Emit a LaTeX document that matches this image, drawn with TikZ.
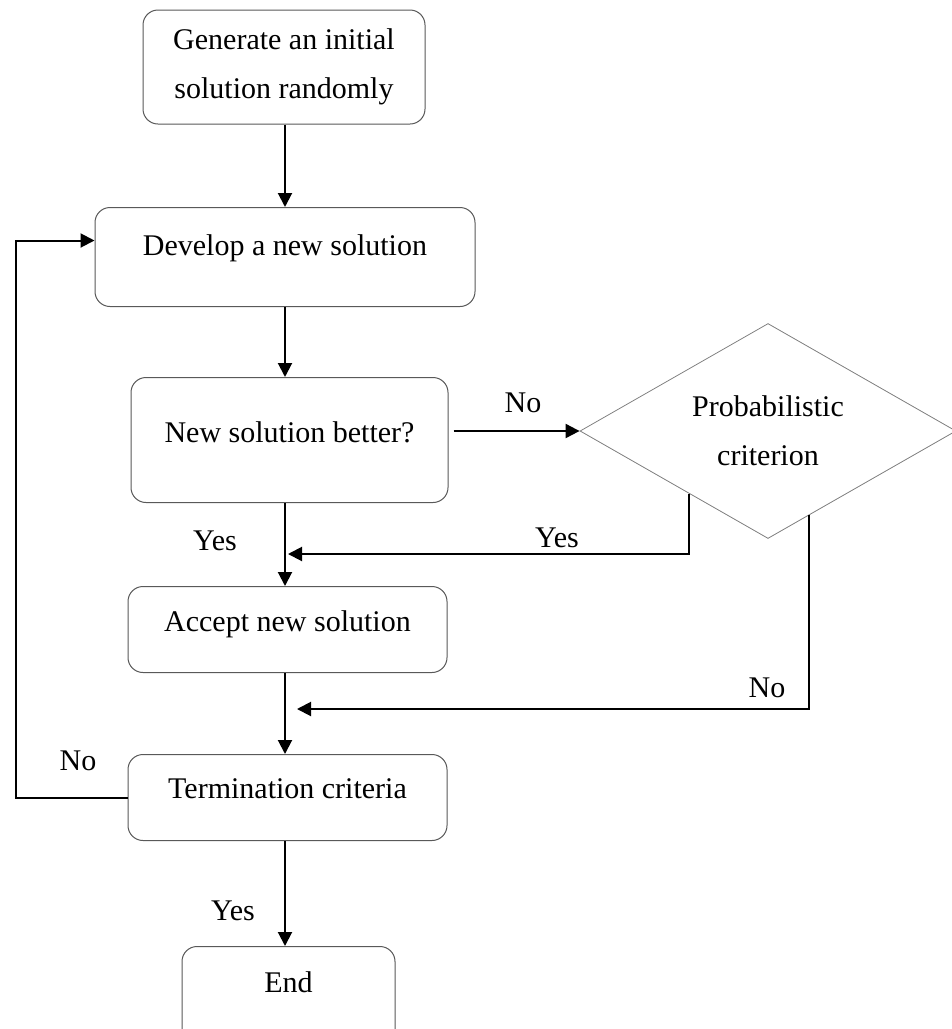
\documentclass[tikz,border=0pt]{standalone}
\usepackage{fontspec}
\setmainfont{Liberation Serif}
\usetikzlibrary{arrows.meta,shapes.geometric,calc}

\tikzset{
  stepbox/.style={draw=black!65, line width=1pt, rounded corners=15pt,
    inner xsep=0pt, inner ysep=0pt, anchor=north, align=center},
  decision/.style={diamond, draw=black!50, line width=0.8pt, inner sep=0pt,
    shape aspect=1.75, minimum width=376pt, minimum height=215pt, align=center},
  arr/.style={line width=2pt, -{Triangle[length=14pt,width=14pt]}},
  lbl/.style={anchor=base, inner sep=0pt},
}

\begin{document}
\begin{tikzpicture}[x=1pt, y=-1pt, font=\fontsize{30}{49}\selectfont]
\clip (0,0) rectangle (952,1029);
\fill[white] (0,0) rectangle (952,1029);

% process boxes
\node[stepbox, minimum width=282pt, minimum height=114pt, anchor=center]
  (gen) at (284,67) {Generate an initial\\solution randomly};
\node[stepbox, minimum width=380pt, text height=48pt, text depth=51pt]
  (dev) at (285,207) {Develop a new solution};
\node[stepbox, minimum width=317pt, text height=65pt, text depth=60pt]
  (better) at (289.5,377) {New solution better?};
\node[stepbox, minimum width=319pt, text height=45pt, text depth=41pt]
  (accept) at (287.5,586) {Accept new solution};
\node[stepbox, minimum width=319pt, text height=44pt, text depth=42pt]
  (term) at (287.5,754) {Termination criteria};
\node[stepbox, minimum width=213pt, text height=46pt, text depth=53pt]
  (end) at (288.5,946) {End};

% decision
\node[decision] (prob) at (768,431) {Probabilistic\\criterion};

% helper points
\coordinate (spine) at (285,0);
\coordinate (yesjoin) at (288,554);
\coordinate (nojoin) at (297,709);

% main flow
\draw[arr] (gen.south -| spine) -- (dev.north -| spine);
\draw[arr] (dev.south -| spine) -- (better.north -| spine);
\draw[arr] (better.south -| spine) -- (accept.north -| spine);
\draw[arr] (accept.south -| spine) -- (term.north -| spine);
\draw[arr] (term.south -| spine) -- (end.north -| spine);

% to the probabilistic check
\draw[arr] ([xshift=5pt]better.east |- prob.west) -- (prob.west);

% probabilistic outcomes
\draw[arr] ($(prob.west)!0.58!(prob.south)$) |- (yesjoin);
\draw[arr] ($(prob.south)!0.218!(prob.east)$) |- (nojoin);

% loop back
\draw[arr] (term.west) -- ++(-112,0) |- ([yshift=16.5pt]dev.west);

% labels
\node[lbl] (lno1) at (523,412) {No};
\node[lbl] (lyes1) at (557,547) {Yes};
\node[lbl] (lyes2) at (215,550) {Yes};
\node[lbl] (lno2) at (767,697) {No};
\node[lbl] (lno3) at (78,770) {No};
\node[lbl] (lyes3) at (233,920) {Yes};
\end{tikzpicture}
\end{document}
